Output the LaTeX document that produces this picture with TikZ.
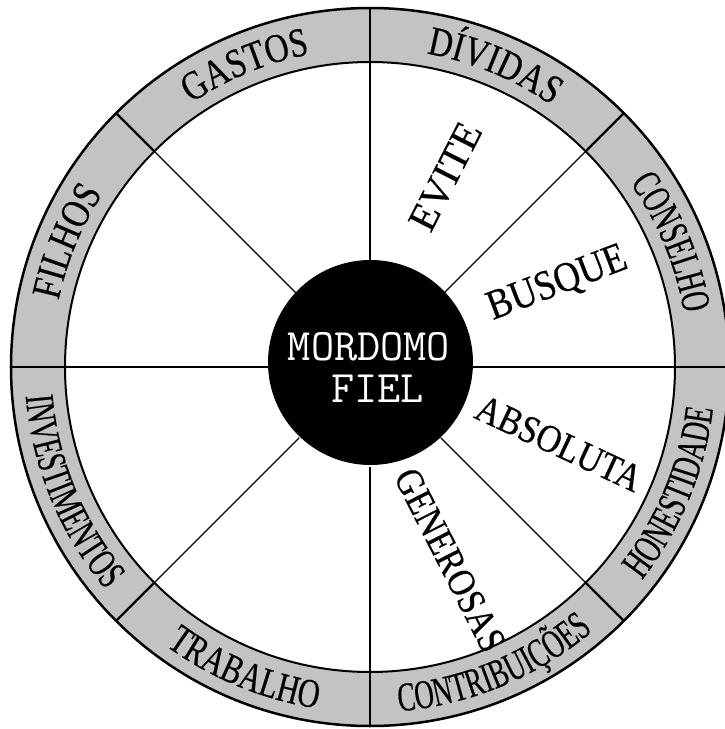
\documentclass[tikz,border=0pt]{standalone}
\usepackage{fontspec}
\setmainfont{Liberation Serif}
\newfontfamily\rsA{Liberation Serif}[FakeStretch=0.81,FakeBold=0.4]
\newfontfamily\rsB{Liberation Serif}[FakeStretch=0.74,FakeBold=0.4]
\newfontfamily\rsC{Liberation Serif}[FakeStretch=0.65,FakeBold=0.4]
\newfontfamily\wdA{Liberation Serif}[FakeStretch=1.0,FakeBold=0.5]
\newfontfamily\wdB{Liberation Serif}[FakeStretch=0.87,FakeBold=0.5]
\usetikzlibrary{decorations.text}
\definecolor{ringgray}{RGB}{195,195,195}
\tikzset{
  ringlabel/.style={decorate, decoration={text along path, text align=center, text={#1}}},
  wordlabel/.style={inner sep=0pt, text=black},
  hubtext/.style={anchor=base, text=white, inner sep=0pt, font=\ttfamily\fontsize{45}{45}\selectfont},
  spokeline/.style={line width=1.3pt, black},
  dividerline/.style={line width=2.2pt, black}
}
\begin{document}
\begin{tikzpicture}[x=1pt,y=1pt]
\useasboundingbox (-370,-362) rectangle (355,367);
\clip (-370,-362) rectangle (355,367);
% ring
\fill[ringgray, even odd rule] (0,0) circle[radius=359] (0,0) circle[radius=305];
\draw[line width=2.5pt] (0,0) circle[radius=359];
\draw[line width=2pt] (0,0) circle[radius=305];
\foreach \a in {0,45,...,315} {
  \draw[spokeline] (\a:100) -- (\a:305);
  \draw[dividerline] (\a:305) -- (\a:359);
}
% hub
\node[circle, fill=black, minimum size=205pt, inner sep=0pt] (hub) at (0.5,4.5) {};
\node[hubtext] (m1) at (-1,7) {MORDOMO};
\node[hubtext] (m2) at (7.5,-35) {FIEL};
% inner words
\node[wordlabel, rotate=63, font=\fontsize{40}{40}\wdA] (evite) at (75.5,190.5) {EVITE};
\node[wordlabel, rotate=21, font=\fontsize{42}{42}\wdB] (busque) at (187.5,83) {BUSQUE};
\node[wordlabel, rotate=-25, font=\fontsize{39}{39}\wdB] (absoluta) at (189,-76.5) {ABSOLUTA};
\node[wordlabel, rotate=-63, font=\fontsize{39}{39}\wdB] (generosas) at (80,-193) {GENEROSAS};
% ring labels (top half, clockwise)
\path[ringlabel={|\fontsize{41}{42}\rsA|FILHOS}] (180:318.5) arc[start angle=180, end angle=135, radius=318.5];
\path[ringlabel={|\fontsize{41}{42}\rsA|GASTOS}] (135:318.5) arc[start angle=135, end angle=90, radius=318.5];
\path[ringlabel={|\fontsize{41}{42}\rsA|DÍVIDAS}] (90:318.5) arc[start angle=90, end angle=45, radius=318.5];
\path[ringlabel={|\fontsize{41}{42}\rsC|CONSELHO}] (45:318.5) arc[start angle=45, end angle=0, radius=318.5];
% ring labels (bottom half, counter-clockwise)
\path[ringlabel={|\fontsize{41}{42}\rsC|INVESTIMENTOS}] (180:345.5) arc[start angle=180, end angle=225, radius=345.5];
\path[ringlabel={|\fontsize{41}{42}\rsB|TRABALHO}] (225:345.5) arc[start angle=225, end angle=270, radius=345.5];
\path[ringlabel={|\fontsize{41}{42}\rsC|CONTRIBUIÇÕES}] (270:345.5) arc[start angle=270, end angle=315, radius=345.5];
\path[ringlabel={|\fontsize{41}{42}\rsC|HONESTIDADE}] (315:345.5) arc[start angle=315, end angle=360, radius=345.5];
\end{tikzpicture}
\end{document}
